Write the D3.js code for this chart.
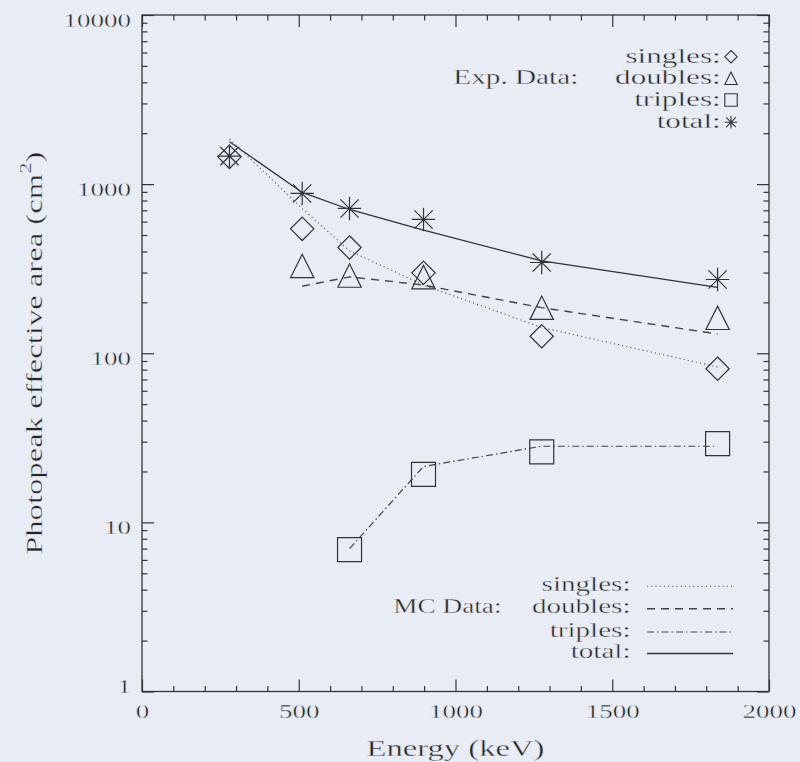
<!DOCTYPE html>
<html>
<head>
<meta charset="utf-8">
<script src="https://cdn.jsdelivr.net/npm/d3@7"></script>
<style>
  html, body { margin: 0; padding: 0; background: #e8edf5; }
  svg { display: block; }
  text {
      font-family: "Liberation Serif", "Times New Roman", serif;
      fill: #262626;
      /* thin the glyphs a little, the original font is a light stroke font */
      stroke: #e8edf5;
      stroke-width: 0.35px;
  }
</style>
</head>
<body>
<script>

// ------------------------------------------------------------------
// Data

// Energies of the calibration lines, keV
var energy = [279, 511, 662, 898, 1275, 1836];

// Experimental photopeak effective area, cm^2 (null = no point)
var exp_singles = [1450, 544, 422, 299, 126, 81];
var exp_doubles = [null, 328, 288, 282, 186, 162];
var exp_triples = [null, null, 6.9, 19.2, 26.1, 29.2];
var exp_total   = [1465, 881, 718, 618, 344, 273];

// Monte Carlo photopeak effective area, cm^2
var mc_singles = [1850, 718, 403, 253, 142, 83];
var mc_doubles = [null, 249, 283, 253, 186, 130];
var mc_triples = [null, null, 7.0, 21.4, 28.2, 28.2];
var mc_total   = [1780, 893, 708, 534, 352, 245];

// Tick labels
var x_ticks = [0, 500, 1000, 1500, 2000];
var y_ticks = [1, 10, 100, 1000, 10000];

// Legend entries
var legend_names = ['singles:', 'doubles:', 'triples:', 'total:'];
var exp_title = 'Exp. Data:';
var mc_title = 'MC Data:';

// ------------------------------------------------------------------

var W = 800, H = 762;
var INK = '#333';
var STRETCH = 1.42;   // the plotted font is wider than Liberation Serif

var x = d3.scaleLinear().domain([0, 2000]).range([142, 769]);
var y = d3.scaleLog().domain([1, 10000]).range([691.5, 15]);

var svg = d3.select('body').append('svg')
    .attr('width', W)
    .attr('height', H);

// Puts a horizontally stretched text at (px, py)
function label(parent, str, px, py, anchor, size, sx) {
    var g = parent.append('g')
        .attr('transform', 'translate(' + px + ',' + py + ') scale(' + (sx || STRETCH) + ',1)');
    return g.append('text')
        .attr('text-anchor', anchor)
        .style('font-size', size + 'px')
        .text(str);
}

// ------------------------------------------------------------------
// Axes: ticks inside on all four sides

var x_minor = x.ticks(20).filter(function (d) { return x_ticks.indexOf(d) < 0; });
var y_minor = y.ticks().filter(function (d) { return y_ticks.indexOf(d) < 0; });

function ticks_only(axis, values, size) {
    return axis.tickValues(values).tickSizeInner(-size).tickSizeOuter(0).tickFormat('');
}

var axes = svg.append('g').style('color', INK);

function add_axis(axis, tx, ty) {
    var g = axes.append('g')
        .attr('transform', 'translate(' + tx + ',' + ty + ')')
        .call(axis);
    g.select('.domain').remove();
    g.attr('font-size', null).attr('font-family', null);
    g.selectAll('line').attr('stroke-width', 1.2);
    return g;
}

add_axis(ticks_only(d3.axisBottom(x), x_minor, 5.5), 0, y(1));
add_axis(ticks_only(d3.axisTop(x), x_minor, 5.5), 0, y(10000));
add_axis(ticks_only(d3.axisTop(x), x_ticks, 12), 0, y(10000));
add_axis(ticks_only(d3.axisLeft(y), y_minor, 5.5), x(0), 0);
add_axis(ticks_only(d3.axisRight(y), y_minor, 5.5), x(2000), 0);
add_axis(ticks_only(d3.axisRight(y), y_ticks, 12), x(2000), 0);

var bottom = add_axis(d3.axisBottom(x).tickValues(x_ticks)
    .tickSizeInner(-12).tickSizeOuter(0).tickPadding(13.5)
    .tickFormat(d3.format('d')), 0, y(1));
bottom.selectAll('text')
    .attr('fill', null)
    .attr('transform', 'scale(' + STRETCH + ',1)')
    .style('font-size', '19px');

var left = add_axis(d3.axisLeft(y).tickValues(y_ticks)
    .tickSizeInner(-12).tickSizeOuter(0).tickPadding(11 / STRETCH)
    .tickFormat(d3.format('d')), x(0), 0);
left.selectAll('text')
    .attr('fill', null)
    .attr('transform', 'scale(' + STRETCH + ',1)')
    .attr('dy', null)
    .attr('y', function (d) { return Math.min(11, y(1) + 0.5 - y(d)); })
    .style('font-size', '19px');

// Frame
svg.append('rect')
    .attr('x', x(0))
    .attr('y', y(10000))
    .attr('width', x(2000) - x(0))
    .attr('height', y(1) - y(10000))
    .attr('fill', 'none')
    .attr('stroke', INK)
    .attr('stroke-width', 1.3);

// Axis titles
label(svg, 'Energy (keV)', (x(0) + x(2000)) / 2, 756, 'middle', 23);

var ytitle = svg.append('g')
    .attr('transform', 'translate(41.7,' + (y(1) + y(10000)) / 2 + ') rotate(-90) scale(' + STRETCH + ',1)')
    .append('text')
    .attr('text-anchor', 'middle')
    .style('font-size', '23px');
ytitle.append('tspan').text('Photopeak effective area (cm');
ytitle.append('tspan').attr('dy', -11).style('font-size', '16px').text('2');
ytitle.append('tspan').attr('dy', 11).text(')');

// ------------------------------------------------------------------
// MC curves

var styles = {
    singles: { dash: '1.2,3', width: 1.1, color: '#555' },
    doubles: { dash: '8,6', width: 1.4, color: '#444' },
    triples: { dash: '7,3,1.5,3', width: 1.2, color: '#444' },
    total:   { dash: null, width: 1.3, color: '#333' }
};

var mc_series = [
    { key: 'singles', values: mc_singles },
    { key: 'doubles', values: mc_doubles },
    { key: 'triples', values: mc_triples },
    { key: 'total', values: mc_total }
];

var line = d3.line()
    .defined(function (d) { return d[1] !== null; })
    .x(function (d) { return x(d[0]); })
    .y(function (d) { return y(d[1]); });

svg.append('g').selectAll('path')
    .data(mc_series)
    .enter()
    .append('path')
    .attr('d', function (d) { return line(d3.zip(energy, d.values)); })
    .attr('fill', 'none')
    .attr('stroke', function (d) { return styles[d.key].color; })
    .attr('stroke-width', function (d) { return styles[d.key].width; })
    .attr('stroke-dasharray', function (d) { return styles[d.key].dash; });

// ------------------------------------------------------------------
// Experimental points

function symbol_path(type, r) {
    var k = r * 0.78;
    switch (type) {
    case 'singles':
        return 'M0,' + (-r) + 'L' + r + ',0L0,' + r + 'L' + (-r) + ',0Z';
    case 'doubles':
        return 'M' + (-r) + ',' + r + 'L0,' + (-r) + 'L' + r + ',' + r + 'Z';
    case 'triples':
        return 'M' + (-r) + ',' + (-r) + 'H' + r + 'V' + r + 'H' + (-r) + 'Z';
    default:
        return 'M' + (-r) + ',0H' + r + 'M0,' + (-r) + 'V' + r +
            'M' + (-k) + ',' + (-k) + 'L' + k + ',' + k +
            'M' + (-k) + ',' + k + 'L' + k + ',' + (-k);
    }
}

var exp_series = [
    { key: 'singles', values: exp_singles },
    { key: 'doubles', values: exp_doubles },
    { key: 'triples', values: exp_triples },
    { key: 'total', values: exp_total }
];

var points = svg.append('g');
exp_series.forEach(function (s) {
    var pts = d3.zip(energy, s.values).filter(function (d) { return d[1] !== null; });
    points.selectAll('path.' + s.key)
        .data(pts)
        .enter()
        .append('path')
        .attr('class', s.key)
        .attr('transform', function (d) { return 'translate(' + x(d[0]) + ',' + y(d[1]) + ')'; })
        .attr('d', symbol_path(s.key, s.key === 'triples' ? 12 : 11.7))
        .attr('fill', 'none')
        .attr('stroke', INK)
        .attr('stroke-width', 1.2);
});

// ------------------------------------------------------------------
// Legends

var leg = svg.append('g');

// Experimental data legend (symbols)
var exp_base = [62.7, 84.3, 106, 128.3];
label(leg, exp_title, 453.3, exp_base[1], 'start', 21.5, 1.36);
legend_names.forEach(function (name, i) {
    label(leg, name, 720.7, exp_base[i], 'end', 21.5, 1.45);
    leg.append('path')
        .attr('transform', 'translate(731,' + (exp_base[i] - 6) + ')')
        .attr('d', symbol_path(exp_series[i].key, 6.2))
        .attr('fill', 'none')
        .attr('stroke', INK)
        .attr('stroke-width', 1.1);
});

// MC data legend (line styles)
var mc_base = [590.7, 613.3, 636.5, 658];
label(leg, mc_title, 393.3, mc_base[1], 'start', 20.5, 1.33);
legend_names.forEach(function (name, i) {
    var st = styles[mc_series[i].key];
    label(leg, name, 630.5, mc_base[i], 'end', 20.5);
    leg.append('line')
        .attr('x1', 647)
        .attr('x2', 733)
        .attr('y1', mc_base[i] - 4.5)
        .attr('y2', mc_base[i] - 4.5)
        .attr('stroke', st.color)
        .attr('stroke-width', st.width)
        .attr('stroke-dasharray', st.dash);
});

</script>
</body>
</html>
